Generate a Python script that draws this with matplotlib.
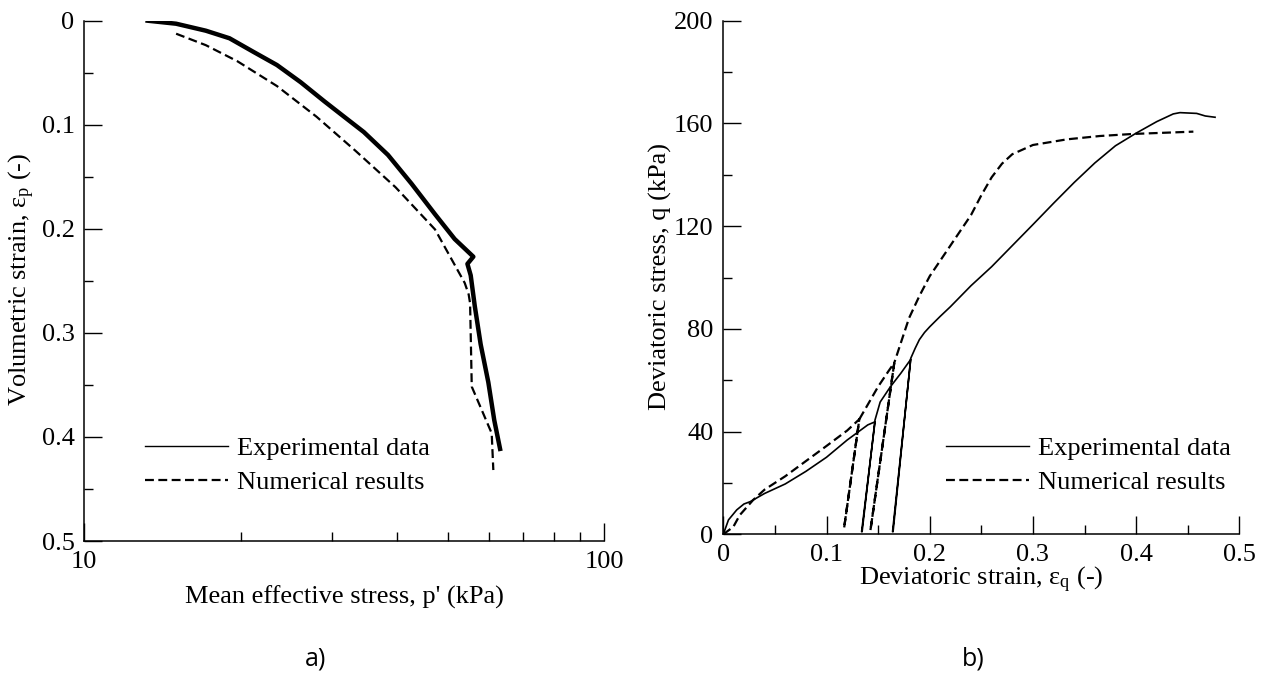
import matplotlib
matplotlib.use('Agg')
import matplotlib.pyplot as plt
from matplotlib.lines import Line2D
from matplotlib.font_manager import FontProperties
from matplotlib.ticker import MultipleLocator, NullFormatter, FixedLocator, FixedFormatter

SERIF = 'Liberation Serif'
plt.rcParams['font.family'] = SERIF
plt.rcParams['font.serif'] = [SERIF, 'DejaVu Serif']
plt.rcParams['mathtext.fontset'] = 'custom'
plt.rcParams['mathtext.rm'] = SERIF
plt.rcParams['mathtext.it'] = SERIF + ':italic'

# ---------------- data: a) volumetric response ----------------
exp_p = [13.24, 15.02, 17.13, 19.03, 21.13, 23.48, 26.08, 28.97, 31.6, 34.5,
         38.4, 42.6, 47.3, 51.6, 56.05, 54.6, 55.4, 56.4, 57.9, 59.9, 61.5, 63.1]
exp_ev = [0.0, 0.0029, 0.0096, 0.0169, 0.0298, 0.0426, 0.0591, 0.0775, 0.0922, 0.107,
          0.129, 0.1565, 0.186, 0.2098, 0.2268, 0.2337, 0.2447, 0.274, 0.311, 0.3475, 0.384, 0.4115]

num_p = [15.02, 17.13, 19.71, 23.48, 27.97, 33.3, 39.7, 47.3, 53.95, 54.9,
         55.25, 55.66, 60.8, 61.24]
num_ev = [0.0125, 0.0235, 0.039, 0.0628, 0.0922, 0.1253, 0.160, 0.2006, 0.252, 0.263,
          0.2716, 0.3517, 0.3965, 0.4318]

# ---------------- data: b) deviatoric response ----------------
exp_eq = [0.0, 0.005, 0.013, 0.020, 0.026, 0.040, 0.060, 0.080, 0.100, 0.120, 0.140, 0.147,
          0.134, 0.1345, 0.147, 0.152, 0.162, 0.172, 0.1816,
          0.164, 0.1645, 0.1816, 0.186, 0.190, 0.195, 0.200, 0.210, 0.220, 0.240, 0.260,
          0.280, 0.300, 0.320, 0.340, 0.360, 0.380, 0.400, 0.420, 0.436, 0.4425, 0.4587,
          0.467, 0.4765]
exp_q = [0.0, 5.6, 9.5, 11.8, 12.7, 15.9, 19.6, 24.5, 30.0, 36.7, 42.6, 43.8,
         1.0, 1.0, 44.5, 51.5, 57.5, 62.7, 68.1,
         1.0, 1.0, 68.5, 72.5, 75.8, 78.6, 80.8, 84.8, 88.6, 96.8, 104.2,
         112.4, 120.6, 128.9, 137.0, 144.6, 151.3, 156.2, 160.7, 163.7, 164.2, 163.9,
         162.9, 162.4]

num_eq = [0.0, 0.0097, 0.016, 0.029, 0.040, 0.060, 0.080, 0.100, 0.120, 0.1318,
          0.117, 0.1318, 0.140, 0.150, 0.160, 0.1657,
          0.1425, 0.1657, 0.172, 0.180, 0.190, 0.200, 0.220, 0.240, 0.250, 0.260, 0.270,
          0.280, 0.300, 0.333, 0.365, 0.397, 0.4555]
num_q = [0.0, 2.9, 7.5, 13.4, 17.4, 22.6, 28.5, 34.4, 40.4, 44.8,
         2.3, 44.8, 50.5, 57.5, 63.5, 66.8,
         1.4, 66.8, 74.5, 84.2, 92.8, 100.5, 112.4, 124.3, 132.0, 139.0, 144.3,
         148.0, 151.6, 153.8, 155.1, 155.9, 156.8]

xt_a = [10, 100]
yt_a = [0, 0.1, 0.2, 0.3, 0.4, 0.5]
xt_b = [0, 0.1, 0.2, 0.3, 0.4, 0.5]
yt_b = [0, 40, 80, 120, 160, 200]

FS = 19
DASH = (0, (4, 2))
FP = FontProperties(family=SERIF, size=FS)

fig = plt.figure(figsize=(12.66, 6.76), dpi=100)
ax1 = fig.add_axes([84.3 / 1266, 1 - 541 / 676, (604 - 84.3) / 1266, (541 - 20.7) / 676])
ax2 = fig.add_axes([723.3 / 1266, 1 - 534.3 / 676, 516 / 1266, (534.3 - 20.7) / 676])

# ---- a)
ax1.plot(exp_p, exp_ev, color='black', lw=3.2, solid_joinstyle='round')
ax1.plot(num_p, num_ev, color='black', lw=1.6, linestyle=DASH)
ax1.set_xscale('log')
ax1.set_xlim(10, 100)
ax1.set_ylim(0.5, 0)
ax1.xaxis.set_major_locator(FixedLocator(xt_a))
ax1.xaxis.set_major_formatter(FixedFormatter([str(v) for v in xt_a]))
ax1.xaxis.set_minor_locator(FixedLocator(list(range(20, 100, 10))))
ax1.xaxis.set_minor_formatter(NullFormatter())
ax1.yaxis.set_major_locator(FixedLocator(yt_a))
ax1.yaxis.set_major_formatter(FixedFormatter(['0' if v == 0 else f'{v:g}' for v in yt_a]))
ax1.yaxis.set_minor_locator(MultipleLocator(0.05))
ax1.set_xlabel("Mean effective stress, p' (kPa)", fontproperties=FP)
ax1.set_ylabel(r"Volumetric strain, ε$_\mathregular{p}$ (-)", fontproperties=FP)
ax1.xaxis.set_label_coords(0.5, (541 - 597) / 520.3)
ax1.xaxis.label.set_va('center')
ax1.yaxis.set_label_coords((22 - 84.3) / 519.7, 1 - (279 - 20.7) / 520.3)
ax1.yaxis.label.set_va('center')

# ---- b)
ax2.plot(exp_eq, exp_q, color='black', lw=1.2)
ax2.plot(num_eq, num_q, color='black', lw=1.6, linestyle=DASH)
ax2.set_xlim(0, 0.5)
ax2.set_ylim(0, 200)
ax2.xaxis.set_major_locator(FixedLocator(xt_b))
ax2.xaxis.set_major_formatter(FixedFormatter(['0' if v == 0 else f'{v:g}' for v in xt_b]))
ax2.xaxis.set_minor_locator(MultipleLocator(0.05))
ax2.yaxis.set_major_locator(FixedLocator(yt_b))
ax2.yaxis.set_major_formatter(FixedFormatter([str(v) for v in yt_b]))
ax2.yaxis.set_minor_locator(MultipleLocator(20))
ax2.set_xlabel(r"Deviatoric strain, ε$_\mathregular{q}$ (-)", fontproperties=FP)
ax2.set_ylabel("Deviatoric stress, q (kPa)", fontproperties=FP)
ax2.xaxis.set_label_coords(0.5, (534.3 - 580) / 513.6)
ax2.xaxis.label.set_va('center')
ax2.yaxis.set_label_coords((660 - 723.3) / 516, 1 - (277 - 20.7) / 513.6)
ax2.yaxis.label.set_va('center')

for ax in (ax1, ax2):
    ax.spines['top'].set_visible(False)
    ax.spines['right'].set_visible(False)
    ax.spines['left'].set_linewidth(1.1)
    ax.spines['bottom'].set_linewidth(1.1)
    ax.tick_params(which='major', direction='in', length=12.7, width=1.0,
                   labelsize=FS, pad=7, labelfontfamily=SERIF)
    ax.tick_params(which='minor', direction='in', length=6.2, width=1.0)

handles = [Line2D([], [], color='black', lw=1.0),
           Line2D([], [], color='black', lw=1.6, linestyle=DASH)]
labels = ['Experimental data', 'Numerical results']
for ax, x0, yc in ((ax1, 145, 465.5), (ax2, 946, 465.5)):
    ax.legend(handles, labels, loc='center left', frameon=False, prop=FP,
              bbox_to_anchor=(x0 / 1266, 1 - yc / 676), bbox_transform=fig.transFigure,
              borderpad=0, borderaxespad=0, handlelength=3.15, handletextpad=0.33,
              labelspacing=0.38)

fig.text(316 / 1266, 1 - 659 / 676, 'a)', family='Open Sans',
         fontsize=18, ha='center', va='center')
fig.text(973 / 1266, 1 - 659 / 676, 'b)', family='Open Sans',
         fontsize=18, ha='center', va='center')

fig.savefig('out.png', dpi=100)
